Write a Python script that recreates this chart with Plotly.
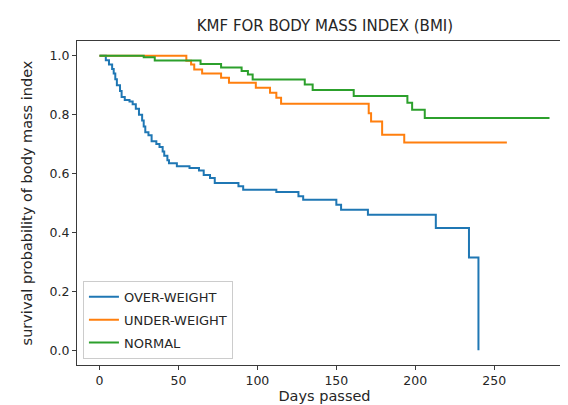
import plotly.graph_objects as go

# ---- data ----
over_t = [0, 4, 6, 8, 9, 10, 11, 13, 14, 16, 19, 21, 23, 25, 27, 28, 29, 31, 33, 36, 38, 40, 41, 43, 44,
          49, 57, 63, 66, 70, 73, 88, 91, 112, 126, 129, 150, 153, 170, 213, 234, 240]
over_s = [1.0, 0.985, 0.970, 0.955, 0.940, 0.920, 0.900, 0.880, 0.860, 0.850, 0.845, 0.835, 0.820, 0.800,
          0.780, 0.760, 0.740, 0.730, 0.710, 0.700, 0.690, 0.675, 0.660, 0.645, 0.635,
          0.625, 0.619, 0.610, 0.595, 0.585, 0.568, 0.557, 0.545, 0.537, 0.523, 0.511, 0.494, 0.477,
          0.460, 0.415, 0.315, 0.0]

under_t = [0, 55, 58, 60, 65, 77, 82, 99, 108, 112, 115, 170.5, 172, 179, 193, 258]
under_s = [1.0, 0.983, 0.970, 0.953, 0.940, 0.925, 0.908, 0.891, 0.874, 0.857, 0.837, 0.805, 0.777,
           0.732, 0.705, 0.705]

normal_t = [0, 28, 35, 64, 77, 90, 94, 97, 130, 135, 161, 195, 198, 206, 285]
normal_s = [1.0, 0.995, 0.984, 0.972, 0.960, 0.948, 0.936, 0.919, 0.902, 0.884, 0.863, 0.840, 0.817,
            0.789, 0.789]

series_names = ["OVER-WEIGHT", "UNDER-WEIGHT", "NORMAL"]
series_colors = ["#1f77b4", "#ff7f0e", "#2ca02c"]

x_ticks = [0, 50, 100, 150, 200, 250]
y_ticks = [0.0, 0.2, 0.4, 0.6, 0.8, 1.0]

title_text = "KMF FOR BODY MASS INDEX (BMI)"
x_title = "Days passed"
y_title = "survival probability of body mass index"

# ---- figure ----
FONT = "DejaVu Sans"
TXT = "#262626"
fig = go.Figure()
for name, color, t, s in zip(series_names, series_colors,
                             [over_t, under_t, normal_t],
                             [over_s, under_s, normal_s]):
    fig.add_trace(go.Scatter(x=t, y=s, mode="lines", name=name, legendgroup=name,
                             line=dict(color=color, width=2, shape="hv")))

axis_common = dict(showgrid=False, zeroline=False, showline=True, mirror=True,
                   linecolor="#3a3a3a", linewidth=1, ticks="outside", ticklen=4,
                   tickwidth=1, tickcolor="#3a3a3a",
                   tickfont=dict(family=FONT, size=12.5, color=TXT))

fig.update_layout(
    width=568, height=405,
    margin=dict(l=69, r=4, t=33, b=48),
    paper_bgcolor="white", plot_bgcolor="white",
    font=dict(family=FONT, size=12.5, color=TXT),
    title=dict(text=title_text, x=0.558, xanchor="center", y=0.955, yanchor="middle",
               font=dict(family=FONT, size=15, color=TXT)),
    xaxis=dict(range=[-14.25, 299.25], tickvals=x_ticks,
               title=dict(text=x_title, standoff=2, font=dict(family=FONT, size=14.5, color=TXT)),
               **axis_common),
    yaxis=dict(range=[-0.05, 1.05], tickvals=y_ticks, tickformat=".1f",
               title=dict(text=y_title, standoff=13, font=dict(family=FONT, size=14.5, color=TXT)),
               **axis_common),
    legend=dict(x=0.012, y=0.019, xanchor="left", yanchor="bottom",
                bgcolor="rgba(255,255,255,0.8)", bordercolor="#cccccc", borderwidth=1,
                font=dict(family=FONT, size=13, color=TXT), tracegroupgap=3,
                itemwidth=30),
    showlegend=True,
)

fig.write_html("out.html")
